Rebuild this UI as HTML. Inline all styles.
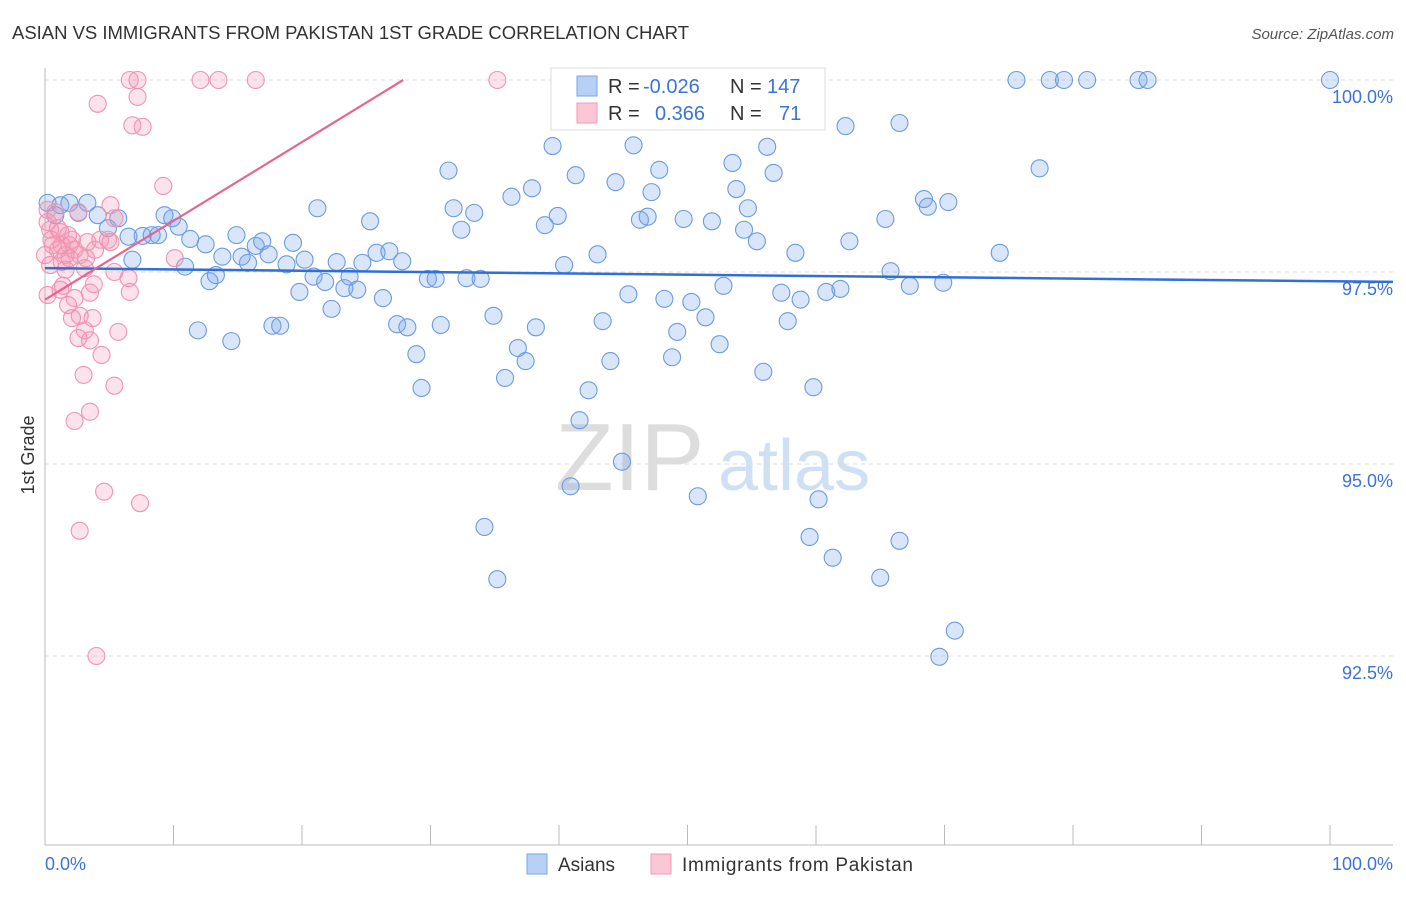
<!DOCTYPE html>
<html><head><meta charset="utf-8"><style>
body{margin:0;background:#fff;font-family:"Liberation Sans",sans-serif;}
svg text{font-family:"Liberation Sans",sans-serif;}
</style></head><body>
<svg id="chart" width="1406" height="892" viewBox="0 0 1406 892" xmlns="http://www.w3.org/2000/svg">
<text x="12" y="39" font-size="18.5" fill="#333" textLength="677">ASIAN VS IMMIGRANTS FROM PAKISTAN 1ST GRADE CORRELATION CHART</text>
<text x="1394" y="39" font-size="15" fill="#555" text-anchor="end" font-style="italic">Source: ZipAtlas.com</text>
<g>
<text x="555" y="490" font-size="96" fill="#ddd" font-family="Liberation Serif,serif">ZIP</text>
<text x="718" y="490" font-size="72" fill="#cfe0f5">atlas</text>
</g>
<g id="grid"></g>
<line x1="45" y1="68" x2="45" y2="845" stroke="#bbb"/>
<line x1="45" y1="845" x2="1393" y2="845" stroke="#bbb"/>
<g id="xticks"></g>
<text transform="translate(34,455) rotate(-90)" font-size="18" fill="#333" text-anchor="middle">1st Grade</text>
<text x="45" y="870" font-size="18" fill="#3b73d9">0.0%</text>
<text x="1393" y="870" font-size="18" fill="#3b73d9" text-anchor="end">100.0%</text>
<g id="pts"></g>
<g id="trends"></g>
<g>
<rect x="551" y="68" width="274" height="62" fill="#fff" stroke="#ddd"/>
<rect x="577" y="76" width="20" height="20" fill="#b8d0f5" stroke="#7aa6e8"/>
<rect x="577" y="103" width="20" height="20" fill="#fbc6d6" stroke="#f09ab5"/>
<text x="608" y="93" font-size="20" fill="#333">R = <tspan fill="#3b73d9" x="643">-0.026</tspan><tspan x="730">N = </tspan><tspan fill="#3b73d9" x="767">147</tspan></text>
<text x="608" y="120" font-size="20" fill="#333">R = <tspan fill="#3b73d9" x="655">0.366</tspan><tspan x="730">N = </tspan><tspan fill="#3b73d9" x="779">71</tspan></text>
</g>
<g>
<rect x="527" y="854" width="20" height="20" fill="#b8d0f5" stroke="#7aa6e8"/>
<text x="558" y="871" font-size="19" fill="#333">Asians</text>
<rect x="651" y="854" width="20" height="20" fill="#fbc6d6" stroke="#f09ab5"/>
<text x="682" y="871" font-size="19" fill="#333" textLength="231">Immigrants from Pakistan</text>
</g>
</svg>
<script>
const yTicks=[100,97.5,95,92.5];
const yTickLabels=["100.0%","97.5%","95.0%","92.5%"];
const xTicks=[0,10,20,30,40,50,60,70,80,90,100];
const asianX=[0.2,1.2,1.9,3.3,0.8,2.6,4.1,5.7,4.9,6.5,6.8,7.6,8.3,8.8,9.3,9.9,10.4,10.9,11.3,11.9,12.5,12.8,13.3,13.8,14.5,14.9,15.3,15.8,16.4,16.9,17.4,17.7,18.3,18.8,19.3,19.8,20.2,20.9,21.2,21.8,22.3,22.7,23.3,23.7,24.3,24.7,25.3,25.8,26.3,26.8,27.4,27.8,28.2,28.9,29.3,29.8,30.4,30.8,31.4,31.8,32.4,32.8,33.4,33.9,34.2,34.9,35.2,35.8,36.3,36.8,37.4,37.9,38.2,38.9,39.5,39.9,40.4,40.9,41.3,41.6,42.3,43.0,43.4,44.0,44.4,44.9,45.4,45.8,46.3,46.9,47.2,47.8,48.2,48.8,49.2,49.7,50.3,50.8,51.4,51.9,52.5,52.8,53.5,53.8,54.4,54.7,55.4,55.9,56.2,56.7,57.3,57.8,58.4,58.8,59.5,59.8,60.2,60.8,61.3,61.9,62.3,62.6,65.0,65.4,65.8,66.5,66.5,67.3,68.4,68.7,69.6,69.9,70.3,70.8,74.3,77.4,75.6,78.2,79.3,81.1,85.1,85.8,100];
const asianY=[98.40,98.37,98.40,98.40,98.24,98.27,98.24,98.20,98.07,97.96,97.66,97.97,97.98,97.98,98.24,98.20,98.09,97.57,97.93,96.74,97.86,97.38,97.46,97.70,96.60,97.98,97.70,97.62,97.84,97.90,97.73,96.80,96.80,97.60,97.88,97.24,97.66,97.44,98.33,97.37,97.02,97.63,97.29,97.44,97.27,97.62,98.16,97.75,97.16,97.77,96.82,97.64,96.78,96.43,95.99,97.41,97.41,96.81,98.82,98.33,98.05,97.42,98.27,97.41,94.18,96.93,93.50,96.12,98.48,96.51,96.34,98.59,96.78,98.11,99.14,98.23,97.59,94.71,98.76,95.57,95.96,97.73,96.86,96.34,98.67,95.03,97.21,99.15,98.18,98.22,98.54,98.83,97.15,96.39,96.72,98.19,97.11,94.58,96.91,98.16,96.56,97.32,98.92,98.58,98.05,98.33,97.90,96.20,99.13,98.79,97.23,96.86,97.75,97.14,94.05,96.00,94.54,97.24,93.78,97.28,99.40,97.90,93.52,98.19,97.51,99.44,94.00,97.32,98.45,98.35,92.49,97.36,98.41,92.83,97.75,98.85,100,100,100,100,100,100,100];
const pakX=[6.6,7.2,12.1,13.5,16.4,35.2,4.1,7.2,6.8,7.6,9.2,0.2,0.8,0.4,1.2,1.8,2.6,5.1,5.4,0.6,1.0,1.6,1.9,2.3,2.7,3.3,3.9,4.3,4.9,0.4,1.3,1.9,3.1,5.4,6.5,10.1,0.2,1.2,2.3,3.5,6.6,2.1,3.7,3.1,2.6,3.5,5.7,4.4,3.0,5.4,3.5,2.3,4.6,7.4,2.7,4.0,1.3,0,0.5,1.6,2.1,1.0,0.2,2.7,1.8,5.1,3.2,3.8,1.4];
const pakY=[100,100,100,100,100,100,99.69,99.78,99.41,99.39,98.62,98.31,98.28,98.05,98.02,97.98,98.28,98.37,98.20,97.85,97.79,97.72,97.85,97.79,97.72,97.89,97.79,97.92,97.92,97.59,97.63,97.68,97.55,97.50,97.42,97.68,97.20,97.27,97.16,97.23,97.24,96.90,96.90,96.74,96.64,96.61,96.72,96.42,96.16,96.02,95.68,95.56,94.64,94.49,94.13,92.50,97.85,97.72,97.92,97.53,97.92,98.07,98.15,96.93,97.07,97.89,97.68,97.34,97.32];
const asianTrend=[97.55,97.38];
const pakTrend=[97.14,107.4];
const trendX=[0,100];
const NS="http://www.w3.org/2000/svg";
const X=v=>45+v*12.85, Y=v=>80+(100-v)*76.8;
function mk(tag,attrs,parent){const e=document.createElementNS(NS,tag);for(const k in attrs)e.setAttribute(k,attrs[k]);parent.appendChild(e);return e;}
const grid=document.getElementById('grid');
yTicks.forEach((t,i)=>{
 const l=mk('line',{x1:45,x2:1393,y1:Y(t),y2:Y(t),stroke:'#ddd','stroke-dasharray':'4,4'},grid);
 
 
 const tx=mk('text',{x:1393,y:Y(t)+23,'font-size':18,fill:'#3b73d9','text-anchor':'end'},grid);
 tx.textContent=yTickLabels[i];
 
 
});
const xt=document.getElementById('xticks');
xTicks.forEach(t=>{
 const l=mk('line',{x1:X(t),x2:X(t),y1:825,y2:845,stroke:'#bbb'},xt);
 
 
});
const pts=document.getElementById('pts');
asianX.forEach((v,i)=>{
 const c=mk('circle',{cx:X(v),cy:Y(asianY[i]),r:8.5,fill:'rgba(120,165,235,0.28)',stroke:'#6b9be0','stroke-width':1.1},pts);
 
 
});
pakX.forEach((v,i)=>{
 const c=mk('circle',{cx:X(v),cy:Y(pakY[i]),r:8.5,fill:'rgba(245,150,180,0.28)',stroke:'#ee94b2','stroke-width':1.1},pts);
 
 
});
const tr=document.getElementById('trends');
const aSlope=(asianTrend[1]-asianTrend[0])/(trendX[1]-trendX[0]);
const aEnd=(1393-45)/12.85;
const a=mk('line',{x1:X(trendX[0]),y1:Y(asianTrend[0]),x2:X(aEnd),y2:Y(asianTrend[0]+aSlope*aEnd),stroke:'#2f6fd6','stroke-width':2.5},tr);


const slope=(pakTrend[1]-pakTrend[0])/(trendX[1]-trendX[0]);
const xEnd=Math.min(trendX[1],(100-pakTrend[0])/slope);
const p=mk('line',{x1:X(trendX[0]),y1:Y(pakTrend[0]),x2:X(xEnd),y2:Y(pakTrend[0]+slope*xEnd),stroke:'#e8638f','stroke-width':2.2},tr);


</script>
</body></html>
